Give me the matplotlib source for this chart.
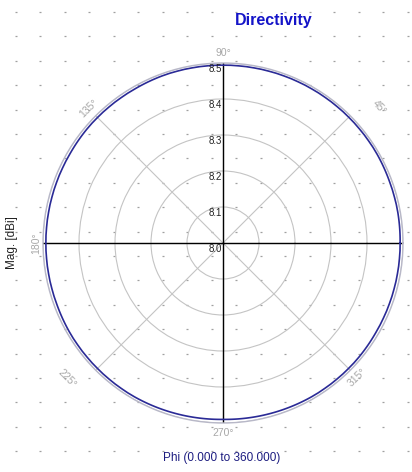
import numpy as np
import matplotlib
matplotlib.use('Agg')
import matplotlib.pyplot as plt

plt.rcParams['font.family'] = ['Liberation Sans', 'DejaVu Sans']

# directivity vs phi (10 deg steps)
phi_deg = [0, 10, 20, 30, 40, 50, 60, 70, 80, 90, 100, 110, 120,
           130, 140, 150, 160, 170, 180, 190, 200, 210, 220, 230, 240,
           250, 260, 270, 280, 290, 300, 310, 320, 330, 340, 350, 360]
mag_dbi = [8.492, 8.493, 8.493, 8.494, 8.494, 8.494, 8.494, 8.494, 8.494,
           8.494, 8.494, 8.494, 8.493, 8.493, 8.493, 8.492, 8.492, 8.492,
           8.492, 8.492, 8.492, 8.493, 8.493, 8.493, 8.493, 8.492, 8.491,
           8.490, 8.491, 8.492, 8.493, 8.493, 8.493, 8.492, 8.492, 8.492,
           8.492]
r_ticks = [8.0, 8.1, 8.2, 8.3, 8.4, 8.5]
r_labels = ['8.0', '8.1', '8.2', '8.3', '8.4', '8.5']
ang_ticks = [0, 45, 90, 135, 180, 225, 270, 315]
ang_labels = ['0°', '45°', '90°', '135°', '180°', '225°', '270°', '315°']

W, H = 412, 472
fig = plt.figure(figsize=(W / 100, H / 100), dpi=100)
fig.patch.set_facecolor('white')

# dotted background
bg = fig.add_axes([0, 0, 1, 1])
bg.set_xlim(0, W)
bg.set_ylim(H, 0)
bg.axis('off')
gx, gy = np.meshgrid(np.arange(16, W, 24.5), np.arange(12, H, 24.4))
bg.scatter(gx.ravel(), gy.ravel(), marker='_', s=3, lw=0.9, color='#a0a0a0')

cx, cy, rad = 223, 243, 180
ax = fig.add_axes([(cx - rad) / W, (H - cy - rad) / H, 2 * rad / W, 2 * rad / H],
                  projection='polar')
ax.patch.set_alpha(0)
ax.set_ylim(r_ticks[0], r_ticks[-1])
ax.set_rgrids(r_ticks[1:], labels=[''] * (len(r_ticks) - 1))
ax.set_thetagrids(ang_ticks, labels=[''] * len(ang_ticks))
ax.grid(color='#c4c4c4', lw=0.8)
ax.spines['polar'].set_color('#b8b8c8')
ax.spines['polar'].set_linewidth(1.0)
ax.tick_params(length=0)

# black cross
for a in [0, 90]:
    t = np.deg2rad(a)
    ax.plot([t, t], [r_ticks[0], r_ticks[-1]], color='black', lw=1.0)
    ax.plot([t + np.pi, t + np.pi], [r_ticks[0], r_ticks[-1]], color='black', lw=1.0)

curve, = ax.plot(np.deg2rad(phi_deg), mag_dbi, color='#2a2a96', lw=1.2)
curve.get_path()._interpolation_steps = 20  # let the polar transform draw arcs

# radial labels
for r, lab in zip(r_ticks, r_labels):
    ax.annotate(lab, xy=(np.pi / 2, r), xytext=(-1, -1), textcoords='offset points',
                ha='right', va='top', fontsize=7, color='#222222')

# angle labels (45 and 225 sit a bit further out in the reference)
label_pos = {0: (0, 8.53), 45: (41, 8.575), 90: (90, 8.528), 135: (135, 8.528),
             180: (180, 8.52), 225: (221, 8.575), 270: (270, 8.528), 315: (315, 8.528)}
for a, lab in zip(ang_ticks, ang_labels):
    rot = a - 90
    if rot > 90:
        rot -= 180
    th, rr = label_pos[a]
    ax.text(np.deg2rad(th), rr, lab, ha='center', va='center', rotation=rot,
            rotation_mode='anchor', fontsize=7.5, color='#a8a8a8', clip_on=False)

fig.text(274 / W, 1 - 20 / H, 'Directivity', ha='center', va='center',
         fontsize=11.5, fontweight='bold', color='#1414c8')
fig.text(12 / W, 1 - 243 / H, 'Mag. [dBi]', ha='center', va='center',
         rotation=90, fontsize=8.5, color='#222222')
fig.text(222 / W, 1 - 458 / H, 'Phi (0.000 to 360.000)', ha='center', va='center',
         fontsize=8.5, color='#1c1c80')

fig.savefig('out.png', dpi=100)
